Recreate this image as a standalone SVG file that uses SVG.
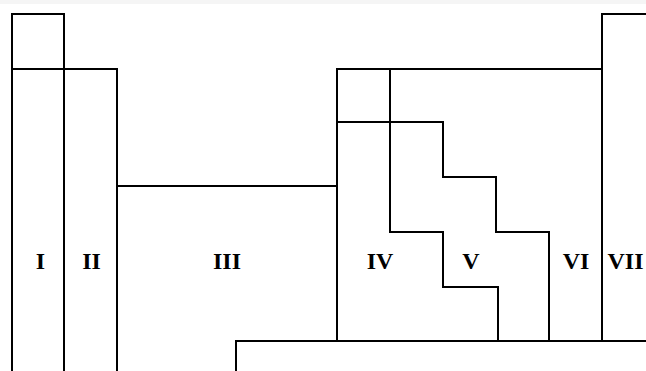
<svg xmlns="http://www.w3.org/2000/svg" width="646" height="371" viewBox="0 0 646 371">
<style>
.ln{fill:none;stroke:#000;stroke-width:2;stroke-linejoin:miter;stroke-linecap:square}
.lb{font-family:"Liberation Serif","Times New Roman",serif;font-weight:bold;font-size:24px;fill:#000;text-anchor:middle}
</style>
<rect width="646" height="371" fill="#fff"/>
<rect x="0" y="0" width="646" height="4" fill="#eeeeee" opacity="0.6"/>
<g id="connectors">
<path class="ln" d="M12 371V14H64V371M12 69H117V371"/>
<path class="ln" d="M117 186H337"/>
<path class="ln" d="M337 341V69H602M602 341V14H646"/>
<path class="ln" d="M337 122H443V177H496V232H549V341"/>
<path class="ln" d="M390 69V232H443V287H498V341"/>
<path class="ln" d="M236 371V341H646"/>
</g>
<g id="I"><text class="lb" x="40.5" y="269">I</text></g>
<g id="II"><text class="lb" x="91.5" y="269">II</text></g>
<g id="III"><text class="lb" x="227" y="269">III</text></g>
<g id="IV"><text class="lb" x="380" y="269">IV</text></g>
<g id="V"><text class="lb" x="471" y="269">V</text></g>
<g id="VI"><text class="lb" x="576" y="269">VI</text></g>
<g id="VII"><text class="lb" x="625.5" y="269">VII</text></g>
</svg>
